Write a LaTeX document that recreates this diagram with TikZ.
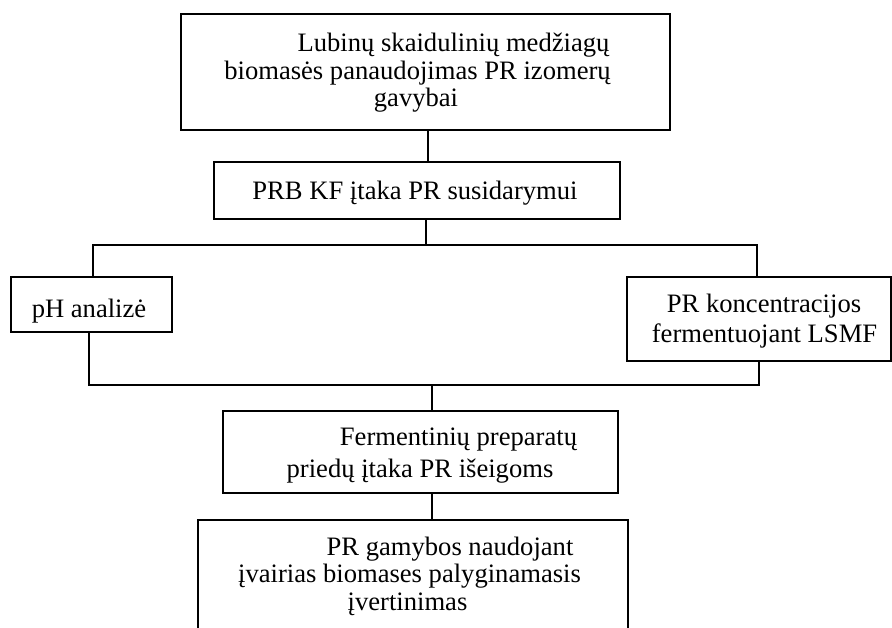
\documentclass[tikz,border=0pt]{standalone}
\usepackage{fontspec}
\setmainfont{Liberation Serif}
\begin{document}
\begin{tikzpicture}[x=1pt,y=-1pt,
  boxstyle/.style={draw=black,line width=1.9pt,rectangle,inner sep=0pt},
  linkstyle/.style={draw=black,line width=1.7pt},
  txt/.style={inner sep=0pt,anchor=base,font=\fontsize{26.6}{30}\selectfont}]
\clip (0,0) rectangle (892,628);
\fill[white] (0,0) rectangle (892,628);
% boxes
\node[boxstyle,minimum width=489pt,minimum height=116pt] (b1) at (425.5,72) {};
\node[boxstyle,minimum width=406pt,minimum height=57pt] (b2) at (417,190.5) {};
\node[boxstyle,minimum width=161pt,minimum height=55pt] (ph) at (91.5,304.5) {};
\node[boxstyle,minimum width=264pt,minimum height=84pt] (rb) at (759,319) {};
\node[boxstyle,minimum width=395pt,minimum height=82pt] (b3) at (420.5,452) {};
\node[boxstyle,minimum width=430pt,minimum height=120pt] (b4) at (413,580) {};
% junction points
\coordinate (x1) at (428,0);
\coordinate (j1) at (426,245);
\coordinate (xl1) at (93,0);
\coordinate (xr1) at (757,0);
\coordinate (xl2) at (89,0);
\coordinate (xr2) at (759,0);
\coordinate (j2) at (432,385);
% connectors
\draw[linkstyle] (b1.south -| x1) -- (b2.north -| x1);
\draw[linkstyle] (b2.south -| j1) -- (j1);
\draw[linkstyle] (ph.north -| xl1) |- (j1) -| (rb.north -| xr1);
\draw[linkstyle] (ph.south -| xl2) |- (j2) -| (rb.south -| xr2);
\draw[linkstyle] (j2) -- (b3.north -| j2);
\draw[linkstyle] (b3.south -| j2) -- (b4.north -| j2);
% texts
\node[txt] (t1a) at (453.5,52) {Lubinų skaidulinių medžiagų};
\node[txt] (t1b) at (417.5,80) {biomasės panaudojimas PR izomerų};
\node[txt] (t1c) at (416,107) {gavybai};
\node[txt] (t2) at (415,200) {PRB KF įtaka PR susidarymui};
\node[txt] (t3) at (89,318) {pH analizė};
\node[txt] (t4a) at (764,313) {PR koncentracijos};
\node[txt] (t4b) at (764.5,343) {fermentuojant LSMF};
\node[txt] (t5a) at (458.5,445) {Fermentinių preparatų};
\node[txt] (t5b) at (420,477) {priedų įtaka PR išeigoms};
\node[txt] (t6a) at (450,555) {PR gamybos naudojant};
\node[txt] (t6b) at (409.5,582) {įvairias biomases palyginamasis};
\node[txt] (t6c) at (407.5,610) {įvertinimas};
\end{tikzpicture}
\end{document}
